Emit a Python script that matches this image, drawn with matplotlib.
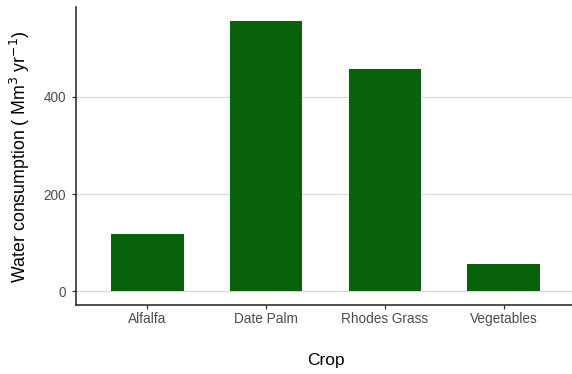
import matplotlib
matplotlib.use('Agg')
import matplotlib.pyplot as plt

plt.rcParams['font.family'] = ['Liberation Sans', 'DejaVu Sans']

# Water use per crop
crops = ['Alfalfa', 'Date Palm', 'Rhodes Grass', 'Vegetables']
consumption = [118, 556, 457, 57]
y_ticks = [0, 200, 400]

bar_color = '#07620a'

fig = plt.figure(figsize=(5.72, 3.74), dpi=100)
W, H = 572, 374
ax = fig.add_axes([76 / W, (H - 305) / H, (575 - 76) / W, (305 - 7) / H])

pos = list(range(1, len(crops) + 1))
ax.bar(pos, consumption, width=0.61, color=bar_color, zorder=2)

ax.set_xlim(0.4, 4.6)
ax.set_ylim(-0.05 * max(consumption), 1.05 * max(consumption))
ax.set_xticks(pos)
ax.set_xticklabels(crops)
ax.set_yticks(y_ticks)

# horizontal grid only, like theme_classic + major y grid
for v in y_ticks:
    ax.axhline(v, color='#d9d9d9', lw=0.9, zorder=1)

for side in ['top', 'right']:
    ax.spines[side].set_visible(False)
for side in ['left', 'bottom']:
    ax.spines[side].set_color('#222222')
    ax.spines[side].set_linewidth(1.1)

ax.tick_params(axis='both', length=3, width=0.9, color='#333333',
               labelcolor='#4d4d4d', labelsize=9.8, pad=2)
ax.tick_params(axis='y', pad=4)

ax.set_xlabel('Crop', fontsize=12.5)
ax.set_ylabel('Water consumption ( Mm$^{3}$ yr$^{-1}$)', fontsize=12.8)
# label positions in axes fractions (xlabel: top edge, ylabel: right edge)
ax.xaxis.set_label_coords(0.5, -(353 - 305) / (305 - 7))
ax.yaxis.set_label_coords(-(76 - 32) / (575 - 76), (305 - 157) / (305 - 7))

fig.savefig('out.png', dpi=100)
